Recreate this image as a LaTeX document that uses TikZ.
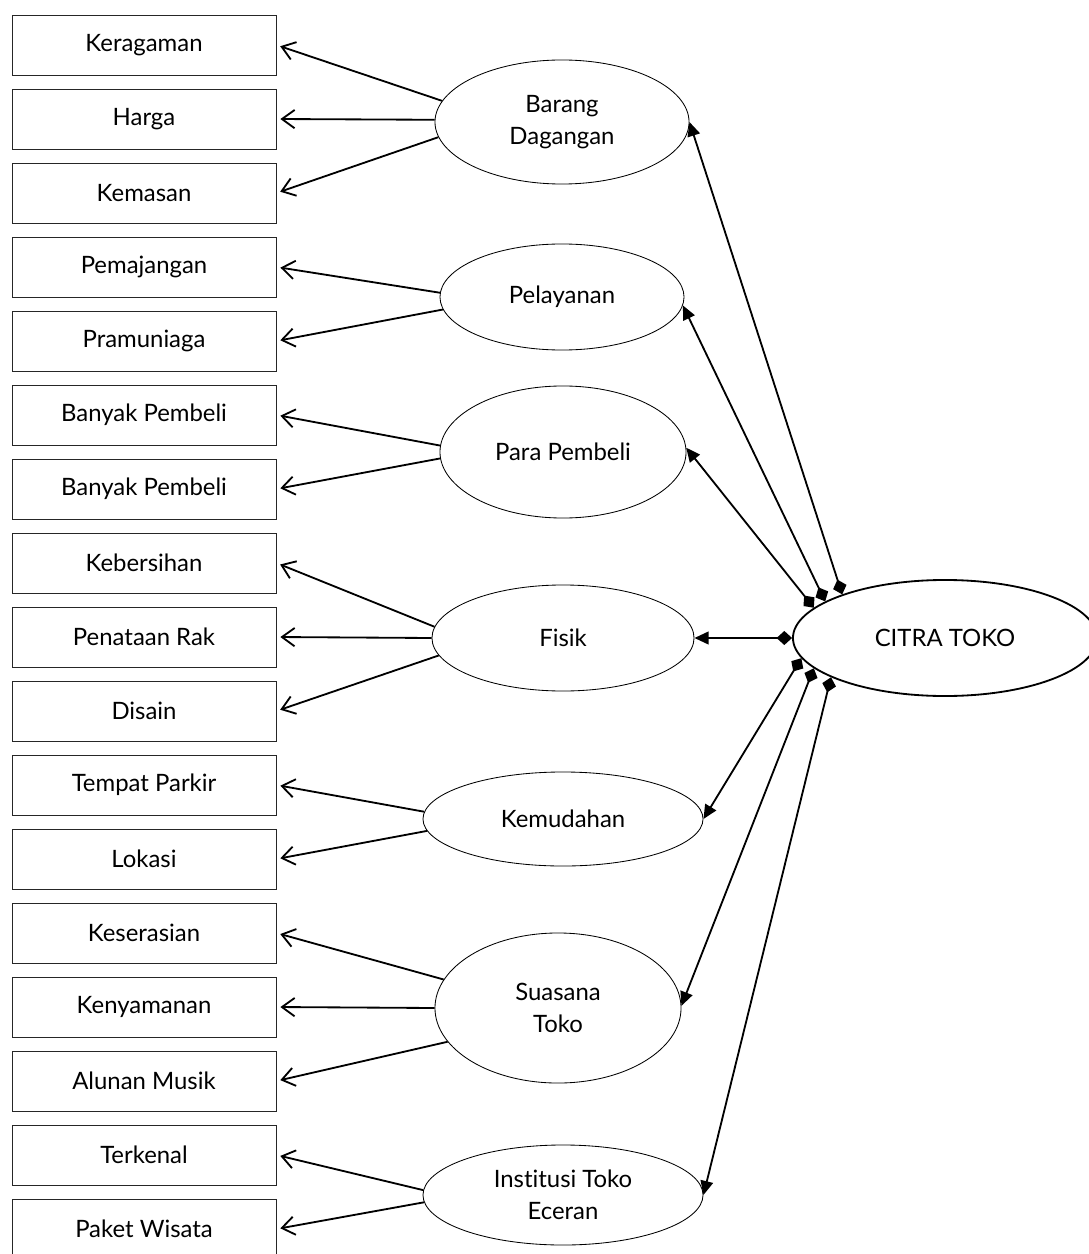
\documentclass[tikz,border=0pt]{standalone}
\usepackage{fontspec}
\setmainfont{Lato}[Ligatures=NoCommon]
\usetikzlibrary{shapes.geometric,arrows.meta}

\tikzset{
	box/.style={draw=black!85, line width=0.6pt, minimum width=6.6cm, minimum height=1.5cm, inner sep=0pt, font=\fontsize{17}{22.5}\selectfont},
	faktor/.style={ellipse, draw, line width=0.6pt, inner sep=0pt, align=center, font=\fontsize{17}{22.5}\selectfont},
	pilih/.style={-{Straight Barb[length=9pt,width=13pt]}, line width=1.3pt, shorten >=2.8pt},
	relasi/.style={{Diamond[length=11pt,width=10pt]}-{Triangle[length=10pt,width=9pt]}, line width=1.3pt}
}

\begin{document}
\begin{tikzpicture}[x=0.025cm, y=-0.025cm]
		\useasboundingbox (0,0) rectangle (1089,1254);
		\clip (0,0) rectangle (1089,1254);
		
		%indikator
		\foreach \n/\t [count=\i from 0] in {keragaman/Keragaman, harga/Harga, kemasan/Kemasan,
			pemajangan/Pemajangan, pramuniaga/Pramuniaga, banyaka/Banyak Pembeli, banyakb/Banyak Pembeli,
			kebersihan/Kebersihan, penataan/Penataan Rak, disain/Disain, parkir/Tempat Parkir, lokasi/Lokasi,
			keserasian/Keserasian, kenyamanan/Kenyamanan, musik/Alunan Musik, terkenal/Terkenal, wisata/Paket Wisata}{
			\node[box] (\n) at (144, {45+74*\i}){\t};
		}
		
		%dimensi
		\node[faktor, minimum width=6.35cm, minimum height=3.1cm] (barang) at (562, 122){Barang\\Dagangan};
		\node[faktor, minimum width=6.1cm, minimum height=2.65cm] (pelayanan) at (562, 297){Pelayanan};
		\node[faktor, minimum width=6.15cm, minimum height=3.3cm] (para) at (563, 452){Para Pembeli};
		\node[faktor, minimum width=6.55cm, minimum height=2.65cm] (fisik) at (563, 638){Fisik};
		\node[faktor, minimum width=7cm, minimum height=2.35cm] (kemudahan) at (563, 819){Kemudahan};
		\node[faktor, minimum width=6.15cm, minimum height=3.75cm] (suasana) at (558, 1008){Suasana\\Toko};
		\node[faktor, minimum width=7cm, minimum height=2.5cm] (institusi) at (563, 1195){Institusi Toko\\Eceran};
		
		\node[faktor, line width=1.3pt, minimum width=7.6cm, minimum height=2.9cm] (citra) at (945, 638){CITRA TOKO};
		
		%dimensi ke indikator
		\draw[pilih] (barang.170) -- (keragaman.east);
		\draw[pilih] (barang.179) -- (harga.east);
		\draw[pilih] (barang.187.5) -- (kemasan.east);
		\draw[pilih] (pelayanan.178.6) -- (pemajangan.east);
		\draw[pilih] (pelayanan.186) -- (pramuniaga.east);
		\draw[pilih] (para.177.7) -- (banyaka.east);
		\draw[pilih] (para.183.7) -- (banyakb.east);
		\draw[pilih] (fisik.175) -- (kebersihan.east);
		\draw[pilih] (fisik.180) -- (penataan.east);
		\draw[pilih] (fisik.188) -- (disain.east);
		\draw[pilih] (kemudahan.177.5) -- (parkir.east);
		\draw[pilih] (kemudahan.185) -- (lokasi.east);
		\draw[pilih] (suasana.166.3) -- (keserasian.east);
		\draw[pilih] (suasana.180) -- (kenyamanan.east);
		\draw[pilih] (suasana.197.2) -- (musik.east);
		\draw[pilih] (institusi.178) -- (terkenal.east);
		\draw[pilih] (institusi.183) -- (wisata.east);
		
		%citra toko ke dimensi
		\draw[relasi] (citra.157.8) -- (barang.east);
		\draw[relasi] (citra.163.6) -- (pelayanan.356);
		\draw[relasi] (citra.167.9) -- (para.2);
		\draw[relasi] (citra.west) -- (fisik.east);
		\draw[relasi] (citra.188.5) -- (kemudahan.east);
		\draw[relasi] (citra.193.3) -- (suasana.1);
		\draw[relasi] (citra.199.2) -- (institusi.east);
\end{tikzpicture}
\end{document}
